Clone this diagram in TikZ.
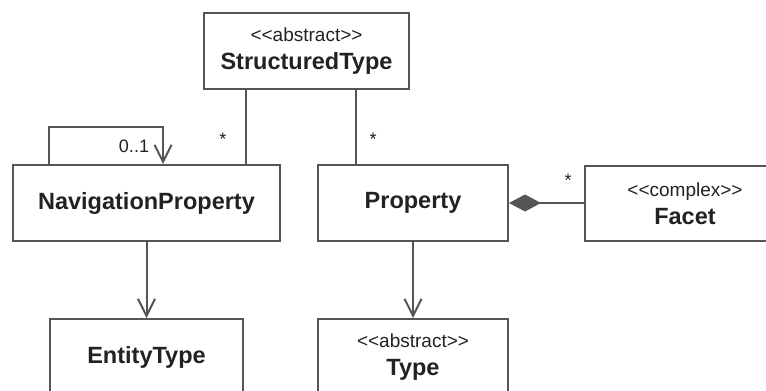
\documentclass[tikz,border=0pt]{standalone}
\usepackage{fontspec}
\setmainfont{Liberation Sans}
\usetikzlibrary{arrows.meta,positioning}
\definecolor{linegray}{HTML}{555555}
\definecolor{textgray}{HTML}{222222}
\tikzset{
  umlbox/.style={draw=linegray, line width=2pt, fill=white, anchor=north west, inner sep=0pt, align=center, text=textgray, font=\fontsize{20}{28}\selectfont},
  conn/.style={draw=linegray, line width=2pt},
  openarrow/.style={conn, -{Straight Barb[length=17pt,width=17pt,line width=2pt]}},
  compos/.style={conn, {Diamond[length=32pt,width=17pt,fill=linegray]}-},
  mult/.style={font=\fontsize{18}{20}\selectfont, text=textgray, inner sep=0pt}
}
\newcommand{\bname}[1]{{\fontsize{23.5}{28}\selectfont\bfseries #1}}
\newcommand{\sname}[1]{{\fontsize{19}{28}\selectfont #1}}
\newcommand{\stereotype}[1]{\sname{<{}<#1>{}>}}
\begin{document}
\begin{tikzpicture}[x=1pt,y=-1pt]
\useasboundingbox[fill=white] (0,0) rectangle (766,391);
% boxes
\node[umlbox, minimum width=205pt, minimum height=76pt] (st) at (203,12) {\stereotype{abstract}\\\bname{StructuredType}};
\node[umlbox, minimum width=267pt, minimum height=76pt] (nav) at (12,164) {\bname{NavigationProperty}};
\node[umlbox, minimum width=190pt, minimum height=76pt] (prop) at (317,164) {\bname{Property}};
\node[umlbox, minimum width=200pt, minimum height=75pt, text width=190pt] (facet) at (584,165) {\stereotype{complex}\\\bname{Facet}};
\node[umlbox, minimum width=193pt, minimum height=76pt] (ent) at (49,318) {\bname{EntityType}};
\node[umlbox, minimum width=190pt, minimum height=76pt] (type) at (317,318) {\stereotype{abstract}\\\bname{Type}};
% coordinates
\coordinate (stL) at (246,88);
\coordinate (stR) at (356,88);
\coordinate (navT) at (246,164);
\coordinate (propT) at (356,164);
\coordinate (loopA) at (49,164);
\coordinate (loopB) at (49,127);
\coordinate (loopC) at (163,127);
\coordinate (loopD) at (163,164);
% connectors
\draw[conn] (stL) -- (navT);
\draw[conn] (stR) -- (propT);
\draw[openarrow] (loopA) -- (loopB) -- (loopC) -- (loopD);
\draw[openarrow] (nav.south) -- (ent.north -| nav.south);
\draw[openarrow] (prop.south) -- (type.north);
\draw[compos] (prop.east) -- (prop.east -| facet.west);
% multiplicities
\node[mult] (m1) at (134,146) {0..1};
\node[mult] (m2) at (223,139) {*};
\node[mult] (m3) at (373,139) {*};
\node[mult] (m4) at (568,180) {*};
\end{tikzpicture}
\end{document}
